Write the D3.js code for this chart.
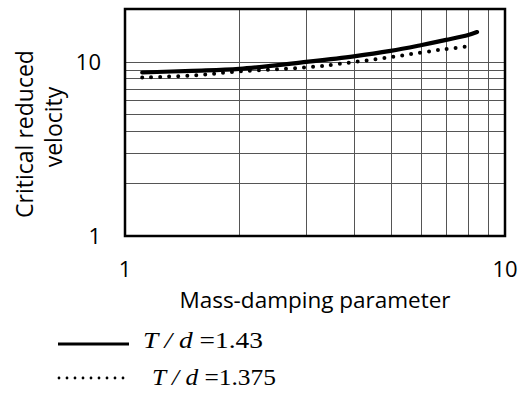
<!DOCTYPE html>
<html>
<head>
<meta charset="utf-8">
<script src="https://cdn.jsdelivr.net/npm/d3@7"></script>
<style>
  body { margin: 0; background: #fff; }
  text { font-family: "Open Sans", sans-serif; fill: #000; }
</style>
</head>
<body>
<script>
var width = 523;
var height = 394;

// series
var solidX = [1.11, 1.5, 2, 3, 4, 5, 6, 7, 8, 8.44];
var solidY = [8.65, 8.85, 9.08, 9.95, 10.7, 11.5, 12.4, 13.3, 14.2, 14.75];
var dotX = [1.11, 1.5, 2, 3, 4, 5, 6, 7, 8, 8.2];
var dotY = [8.1, 8.31, 8.77, 9.25, 9.93, 10.6, 11.25, 11.8, 12.25, 12.5];

var gridX = [2, 3, 4, 5, 6, 7, 8, 9];
var gridY = [2, 3, 4, 5, 6, 7, 8, 9, 10];
var tickX = [1, 10];
var tickY = [1, 10];
var legendLabels = ["1.43", "1.375"];

var svg = d3.select("body").append("svg")
    .attr("width", width)
    .attr("height", height);

var pLeft = 125, pRight = 505, pTop = 9, pBottom = 236;

var x = d3.scaleLog().domain([1, 10]).range([pLeft, pRight]);
var y = d3.scaleLog().domain([1, 20]).range([pBottom, pTop]);

// gridlines
svg.append("g").selectAll("line")
    .data(gridX)
    .enter().append("line")
      .attr("x1", function(d) { return Math.round(x(d)) + 0.5; })
      .attr("x2", function(d) { return Math.round(x(d)) + 0.5; })
      .attr("y1", pTop)
      .attr("y2", pBottom)
      .attr("stroke", "#555")
      .attr("stroke-width", 1);

svg.append("g").selectAll("line")
    .data(gridY)
    .enter().append("line")
      .attr("x1", pLeft)
      .attr("x2", pRight)
      .attr("y1", function(d) { return Math.round(y(d)) + 0.5; })
      .attr("y2", function(d) { return Math.round(y(d)) + 0.5; })
      .attr("stroke", "#555")
      .attr("stroke-width", 1);

// frame
svg.append("rect")
    .attr("x", pLeft)
    .attr("y", pTop)
    .attr("width", pRight - pLeft)
    .attr("height", pBottom - pTop)
    .attr("fill", "none")
    .attr("stroke", "#000")
    .attr("stroke-width", 2.5);

// tick labels
svg.append("g").selectAll("text")
    .data(tickX)
    .enter().append("text")
      .attr("x", function(d) { return x(d); })
      .attr("y", 277)
      .attr("text-anchor", "middle")
      .attr("font-size", 22)
      .text(function(d) { return d; });

svg.append("g").selectAll("text")
    .data(tickY)
    .enter().append("text")
      .attr("x", 101)
      .attr("y", function(d) { return y(d) + 8; })
      .attr("text-anchor", "end")
      .attr("font-size", 22)
      .text(function(d) { return d; });

// axis titles
svg.append("text")
    .attr("x", 315)
    .attr("y", 308)
    .attr("text-anchor", "middle")
    .attr("font-size", 22.5)
    .text("Mass-damping parameter");

svg.append("text")
    .attr("transform", "translate(33,134) rotate(-90)")
    .attr("text-anchor", "middle")
    .attr("font-size", 23)
    .text("Critical reduced");

svg.append("text")
    .attr("transform", "translate(62,127) rotate(-90)")
    .attr("text-anchor", "middle")
    .attr("font-size", 23)
    .text("velocity");

// curves
var line = d3.line()
    .x(function(d) { return x(d[0]); })
    .y(function(d) { return y(d[1]); })
    .curve(d3.curveCatmullRom);

svg.append("path")
    .datum(d3.zip(solidX, solidY))
    .attr("d", line)
    .attr("fill", "none")
    .attr("stroke", "#000")
    .attr("stroke-width", 4.2)
    .attr("stroke-linecap", "round");

svg.append("path")
    .datum(d3.zip(dotX, dotY))
    .attr("d", line)
    .attr("fill", "none")
    .attr("stroke", "#000")
    .attr("stroke-width", 4)
    .attr("stroke-linecap", "round")
    .attr("stroke-dasharray", "0 9");

// legend
svg.append("line")
    .attr("x1", 58).attr("x2", 129)
    .attr("y1", 344).attr("y2", 344)
    .attr("stroke", "#000")
    .attr("stroke-width", 3);

svg.append("line")
    .attr("x1", 59).attr("x2", 127)
    .attr("y1", 378).attr("y2", 378)
    .attr("stroke", "#000")
    .attr("stroke-width", 2.8)
    .attr("stroke-linecap", "round")
    .attr("stroke-dasharray", "0 8");

var legY = [348, 385];
var legX = [143, 152];
var legW = [120, 124];
legendLabels.forEach(function(lab, i) {
  var t = svg.append("text")
      .attr("x", legX[i])
      .attr("y", legY[i])
      .attr("font-size", 23)
      .attr("textLength", legW[i])
      .attr("lengthAdjust", "spacingAndGlyphs")
      .style("font-family", "'Liberation Serif', 'Times New Roman', serif");
  t.append("tspan").attr("font-style", "italic").text("T / d ");
  t.append("tspan").text("=" + lab);
});
</script>
</body>
</html>
